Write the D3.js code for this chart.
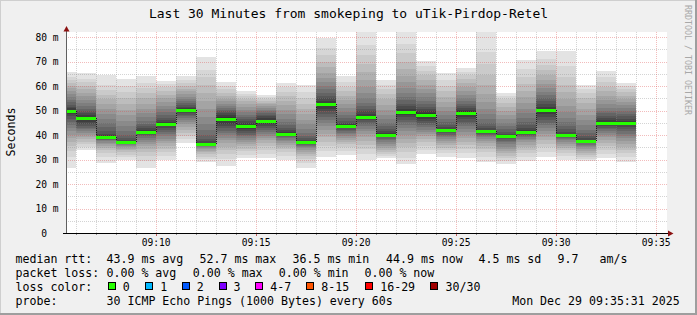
<!DOCTYPE html>
<html>
<head>
<meta charset="utf-8">
<script src="https://cdn.jsdelivr.net/npm/d3@7"></script>
<style>
  html, body { margin: 0; padding: 0; background: #f0f0f0; }
  svg { display: block; }
  text { font-family: "DejaVu Sans Mono", monospace; white-space: pre; }
</style>
</head>
<body>
<svg id="chart" width="697" height="315"></svg>
<script>
// minute each smoke bar ends at
const minuteLabels = [
  "09:06", "09:07", "09:08", "09:09", "09:10", "09:11", "09:12", "09:13", "09:14", "09:15",
  "09:16", "09:17", "09:18", "09:19", "09:20", "09:21", "09:22", "09:23", "09:24", "09:25",
  "09:26", "09:27", "09:28", "09:29", "09:30", "09:31", "09:32", "09:33", "09:34"
];

// 30 ping rtts (ms) per minute, sorted
const pings = [
  [26.7, 31.2, 33.5, 35.4, 37.0, 38.6, 40.1, 41.5, 42.8, 44.0, 45.5, 46.6, 47.6, 48.5, 49.3, 50.3, 50.9, 51.6, 52.4, 53.3, 54.3, 55.4, 56.6, 57.8, 59.0, 60.2, 61.4, 62.6, 63.6, 65.6],
  [33.9, 35.0, 36.2, 37.3, 38.3, 39.2, 40.0, 40.8, 41.5, 42.3, 43.0, 43.8, 44.6, 45.4, 46.2, 47.4, 48.2, 49.0, 49.8, 50.8, 51.9, 53.1, 54.4, 55.8, 57.3, 58.7, 60.1, 61.6, 63.0, 65.4],
  [28.4, 31.0, 32.6, 33.8, 34.8, 35.6, 36.3, 36.9, 37.4, 37.8, 38.1, 38.4, 38.7, 38.9, 39.1, 39.3, 39.8, 40.6, 41.8, 43.2, 44.8, 46.6, 48.5, 50.5, 52.5, 54.5, 56.5, 58.4, 60.6, 64.5],
  [29.8, 31.0, 32.0, 32.9, 33.7, 34.4, 35.0, 35.5, 35.9, 36.2, 36.5, 36.7, 36.8, 36.9, 36.95, 37.05, 37.3, 37.8, 38.6, 39.8, 41.5, 43.5, 45.8, 48.0, 50.3, 52.6, 55.0, 57.4, 59.8, 62.7],
  [26.7, 29.5, 31.5, 33.0, 34.3, 35.4, 36.4, 37.3, 38.1, 38.8, 39.4, 39.9, 40.4, 40.8, 41.2, 41.6, 42.1, 42.7, 43.5, 44.5, 45.7, 47.2, 48.9, 50.8, 52.8, 54.9, 57.0, 59.2, 61.4, 64.2],
  [29.8, 31.5, 33.0, 34.3, 35.5, 36.6, 37.6, 38.5, 39.4, 40.3, 41.2, 42.0, 42.8, 43.5, 44.1, 44.7, 45.4, 46.2, 47.1, 48.1, 49.3, 50.6, 52.0, 53.5, 55.0, 56.5, 58.0, 59.4, 60.7, 62.2],
  [36.6, 38.3, 39.7, 41.0, 42.2, 43.3, 44.3, 45.2, 46.1, 46.9, 47.6, 48.3, 48.9, 49.5, 49.9, 50.5, 51.0, 51.6, 52.2, 52.9, 53.7, 54.6, 55.6, 56.7, 57.8, 58.9, 60.0, 61.1, 62.3, 64.1],
  [28.8, 30.2, 31.2, 32.1, 32.9, 33.6, 34.2, 34.7, 35.1, 35.5, 35.8, 36.0, 36.2, 36.3, 36.4, 36.6, 36.9, 37.5, 38.5, 40.0, 42.0, 44.5, 47.5, 50.8, 54.0, 57.2, 60.4, 63.5, 66.5, 71.8],
  [27.5, 30.2, 32.2, 33.9, 35.3, 36.6, 37.8, 38.9, 39.9, 40.9, 41.8, 42.7, 43.6, 44.6, 45.8, 47.2, 48.1, 48.9, 49.6, 50.3, 51.0, 51.8, 52.7, 53.7, 54.8, 56.0, 57.3, 58.7, 60.1, 61.8],
  [30.5, 32.0, 33.3, 34.4, 35.4, 36.3, 37.2, 38.0, 38.8, 39.5, 40.2, 40.9, 41.6, 42.4, 43.3, 44.1, 44.8, 45.6, 46.4, 47.3, 48.3, 49.3, 50.4, 51.5, 52.6, 53.7, 54.8, 55.8, 56.8, 58.0],
  [30.5, 32.4, 34.0, 35.4, 36.7, 37.8, 38.8, 39.7, 40.5, 41.3, 42.0, 42.7, 43.5, 44.3, 45.2, 46.2, 46.9, 47.6, 48.3, 49.0, 49.7, 50.4, 51.1, 51.8, 52.5, 53.2, 53.9, 54.6, 55.4, 56.3],
  [29.8, 31.5, 32.9, 34.1, 35.1, 36.0, 36.8, 37.5, 38.1, 38.7, 39.2, 39.6, 39.9, 40.1, 40.3, 40.7, 41.2, 41.9, 42.8, 43.9, 45.2, 46.7, 48.4, 50.2, 52.1, 54.0, 55.9, 57.7, 59.4, 61.1],
  [26.7, 28.6, 30.1, 31.3, 32.3, 33.1, 33.8, 34.5, 35.0, 35.5, 35.9, 36.2, 36.5, 36.7, 36.9, 37.1, 37.4, 37.9, 38.6, 39.6, 40.9, 42.5, 44.3, 46.3, 48.4, 50.6, 52.8, 55.1, 57.6, 60.4],
  [31.2, 33.5, 35.5, 37.3, 39.0, 40.6, 42.1, 43.5, 44.8, 46.0, 47.2, 48.4, 49.6, 50.8, 52.0, 53.0, 54.0, 55.0, 56.1, 57.3, 58.6, 60.0, 61.6, 63.4, 65.4, 67.6, 70.0, 72.7, 75.7, 79.5],
  [31.8, 33.6, 35.0, 36.2, 37.2, 38.1, 38.9, 39.6, 40.3, 41.0, 41.6, 42.2, 42.7, 43.2, 43.5, 43.9, 44.4, 45.0, 45.8, 46.8, 48.0, 49.4, 50.9, 52.5, 54.2, 56.0, 57.8, 59.7, 61.8, 64.2],
  [29.8, 32.4, 34.4, 36.1, 37.6, 39.0, 40.3, 41.5, 42.6, 43.6, 44.5, 45.3, 46.0, 46.6, 47.1, 47.9, 48.7, 49.6, 50.6, 51.8, 53.2, 54.9, 57.0, 59.5, 62.4, 65.6, 69.0, 72.6, 76.6, 81.9],
  [30.5, 31.5, 32.4, 33.2, 34.0, 34.8, 35.6, 36.4, 37.2, 37.9, 38.5, 39.0, 39.4, 39.7, 39.9, 40.3, 40.8, 41.5, 42.4, 43.5, 44.8, 46.4, 48.2, 50.2, 52.3, 54.5, 56.6, 58.6, 60.5, 62.4],
  [28.0, 30.8, 33.0, 35.0, 36.8, 38.5, 40.1, 41.6, 43.0, 44.2, 45.3, 46.3, 47.2, 48.0, 48.8, 49.8, 50.7, 51.7, 52.8, 54.1, 55.6, 57.3, 59.3, 61.6, 64.2, 67.0, 70.0, 73.3, 77.0, 81.9],
  [32.1, 34.0, 35.6, 37.0, 38.3, 39.4, 40.4, 41.3, 42.2, 43.1, 44.0, 44.9, 45.8, 46.7, 47.7, 48.9, 49.7, 50.6, 51.6, 52.7, 54.0, 55.4, 57.0, 58.7, 60.5, 62.4, 64.3, 66.2, 68.1, 70.2],
  [31.0, 32.5, 33.7, 34.8, 35.8, 36.7, 37.5, 38.3, 39.0, 39.6, 40.2, 40.7, 41.1, 41.5, 41.8, 42.0, 42.5, 43.2, 44.1, 45.2, 46.5, 48.0, 49.7, 51.6, 53.6, 55.7, 57.9, 60.2, 62.6, 65.2],
  [30.5, 32.5, 34.2, 35.8, 37.3, 38.7, 40.0, 41.2, 42.4, 43.5, 44.5, 45.5, 46.5, 47.4, 48.4, 49.6, 50.3, 51.1, 51.9, 52.8, 53.9, 55.1, 56.5, 58.0, 59.6, 61.2, 62.8, 64.4, 65.9, 67.5],
  [29.1, 31.2, 32.9, 34.3, 35.5, 36.6, 37.5, 38.3, 39.0, 39.6, 40.1, 40.5, 40.9, 41.2, 41.4, 41.6, 42.0, 42.7, 43.6, 44.8, 46.4, 48.4, 50.8, 53.6, 56.8, 60.4, 64.4, 68.8, 74.0, 81.9],
  [28.0, 29.4, 30.6, 31.6, 32.6, 33.5, 34.4, 35.3, 36.2, 37.0, 37.7, 38.3, 38.8, 39.2, 39.4, 39.6, 40.0, 40.6, 41.4, 42.4, 43.6, 45.0, 46.6, 48.3, 50.0, 51.6, 53.1, 54.5, 55.8, 57.0],
  [29.4, 31.2, 32.7, 34.0, 35.1, 36.1, 37.0, 37.8, 38.5, 39.1, 39.6, 40.1, 40.5, 40.8, 41.0, 41.4, 42.0, 42.9, 44.0, 45.4, 47.0, 48.8, 50.8, 53.0, 55.4, 58.0, 60.8, 63.8, 67.0, 70.6],
  [31.2, 33.2, 34.9, 36.4, 37.8, 39.1, 40.3, 41.5, 42.7, 43.9, 45.1, 46.3, 47.5, 48.6, 49.6, 50.6, 51.6, 52.6, 53.7, 54.9, 56.2, 57.6, 59.1, 60.7, 62.5, 64.4, 66.4, 68.6, 71.2, 74.3],
  [29.8, 31.4, 32.7, 33.8, 34.8, 35.7, 36.5, 37.2, 37.8, 38.4, 38.9, 39.3, 39.6, 39.8, 40.0, 40.2, 40.6, 41.3, 42.3, 43.6, 45.2, 47.1, 49.3, 51.8, 54.5, 57.4, 60.5, 63.8, 68.0, 74.3],
  [29.4, 30.3, 31.1, 31.9, 32.7, 33.5, 34.2, 34.9, 35.5, 36.1, 36.6, 37.0, 37.3, 37.5, 37.55, 37.65, 38.0, 38.6, 39.5, 40.7, 42.2, 44.0, 46.1, 48.3, 50.6, 52.9, 55.1, 57.1, 58.8, 60.4],
  [30.5, 32.4, 34.0, 35.4, 36.7, 37.9, 39.0, 40.0, 40.9, 41.7, 42.4, 43.0, 43.6, 44.1, 44.6, 45.4, 46.1, 46.9, 47.8, 48.8, 49.9, 51.2, 52.7, 54.3, 56.0, 57.8, 59.7, 61.7, 63.8, 66.1],
  [29.1, 31.0, 32.6, 34.0, 35.3, 36.5, 37.6, 38.6, 39.6, 40.6, 41.6, 42.5, 43.3, 44.0, 44.6, 45.2, 45.9, 46.7, 47.6, 48.6, 49.7, 50.9, 52.2, 53.5, 54.8, 56.1, 57.4, 58.7, 59.9, 61.1]
];

const yTicks = [0, 10, 20, 30, 40, 50, 60, 70, 80];
const xLabelTimes = ["09:10", "09:15", "09:20", "09:25", "09:30", "09:35"];

const lossLabels = ["0", "1", "2", "3", "4-7", "8-15", "16-29", "30/30"];
const lossColors = ["#26ff00", "#00b8ff", "#0059ff", "#7e00ff", "#ff00ff", "#ff5500", "#ff0000", "#a10000"];

const rttStats = ["43.9 ms avg", "52.7 ms max", "36.5 ms min", "44.9 ms now", "4.5 ms sd", "9.7", "am/s"];
const lossStats = ["0.00 % avg", "0.00 % max", "0.00 % min", "0.00 % now"];
const probeText = "30 ICMP Echo Pings (1000 Bytes) every 60s";
const stampText = "Mon Dec 29 09:35:31 2025";

const W = 697, H = 315;
const svg = d3.select("#chart");

// background + frame
svg.append("rect").attr("width", W).attr("height", H).attr("fill", "#f0f0f0");
svg.append("rect").attr("x", 0).attr("y", 0).attr("width", W).attr("height", 1).attr("fill", "#cfcfcf");
svg.append("rect").attr("x", 0).attr("y", 0).attr("width", 1).attr("height", H).attr("fill", "#cfcfcf");
svg.append("rect").attr("x", 0).attr("y", H - 2).attr("width", W).attr("height", 2).attr("fill", "#9e9e9e");
svg.append("rect").attr("x", W - 2).attr("y", 0).attr("width", 2).attr("height", H).attr("fill", "#9e9e9e");

// scales
const parseHMS = d3.timeParse("%H:%M:%S");
const parseHM = d3.timeParse("%H:%M");
const t0 = parseHMS("09:05:31"), t1 = parseHMS("09:35:31");
const x = d3.scaleTime().domain([t0, t1]).range([66, 666]);
const y = d3.scaleLinear().domain([0, 80]).range([233, 37]);
const plotTop = Math.round(y(82));

// canvas
svg.append("rect")
  .attr("x", 66).attr("y", plotTop)
  .attr("width", 601).attr("height", 233 - plotTop)
  .attr("fill", "#ffffff");

// build bars
const bars = minuteLabels.map((m, i) => {
  const end = parseHM(m);
  const start = d3.timeMinute.offset(end, -1);
  const p = pings[i].slice().sort(d3.ascending);
  return {
    x0: Math.max(66, Math.round(x(start))),
    x1: Math.round(x(end)),
    p: p,
    median: d3.median(p)
  };
});

// smoke: outer bands light, inner bands dark
const half = 15;
const smoke = svg.append("g").attr("shape-rendering", "crispEdges");
bars.forEach((b) => {
  for (let k = 1; k <= half; k++) {
    const c = Math.floor((190 / half) * (half - k)) + 50;
    const lo = Math.round(y(b.p[k - 1]));
    const hi = Math.round(y(b.p[b.p.length - k]));
    smoke.append("rect")
      .attr("x", b.x0).attr("width", b.x1 - b.x0)
      .attr("y", hi).attr("height", Math.max(1, lo - hi))
      .attr("fill", d3.rgb(c, c, c));
  }
});

// grid
const grid = svg.append("g").attr("shape-rendering", "crispEdges");
const minorCol = "rgba(143,143,143,0.38)";
const majorCol = "rgba(222,80,80,0.38)";
d3.range(5, 85, 5).forEach((v) => {
  const yy = Math.round(y(v)) + 0.5;
  grid.append("line")
    .attr("x1", 66).attr("x2", 667).attr("y1", yy).attr("y2", yy)
    .attr("stroke", v % 10 === 0 ? majorCol : minorCol)
    .attr("stroke-dasharray", "1,1");
});
d3.timeMinute.range(d3.timeMinute.ceil(t0), t1).forEach((t) => {
  const xx = Math.round(x(t)) + 0.5;
  const major = t.getMinutes() % 5 === 0;
  grid.append("line")
    .attr("x1", xx).attr("x2", xx).attr("y1", plotTop).attr("y2", 233)
    .attr("stroke", major ? majorCol : minorCol)
    .attr("stroke-dasharray", "1,1");
  // small tick under the axis
  svg.append("line")
    .attr("x1", xx).attr("x2", xx).attr("y1", 233).attr("y2", major ? 236 : 235)
    .attr("stroke", major ? "#c06060" : "#909090")
    .attr("shape-rendering", "crispEdges");
});

// median step connectors
const steps = svg.append("g").attr("shape-rendering", "crispEdges");
bars.slice(0, -1).forEach((b, i) => {
  const n = bars[i + 1];
  steps.append("line")
    .attr("x1", b.x1 + 0.5).attr("x2", b.x1 + 0.5)
    .attr("y1", Math.round(y(b.median))).attr("y2", Math.round(y(n.median)))
    .attr("stroke", "#202020")
    .attr("stroke-dasharray", "1,1");
});

// median lines (loss colour 0)
const med = svg.append("g").attr("shape-rendering", "crispEdges");
bars.forEach((b) => {
  med.append("rect")
    .attr("x", b.x0).attr("width", b.x1 - b.x0)
    .attr("y", Math.round(y(b.median)) - 1).attr("height", 3)
    .attr("fill", lossColors[0]);
});

// axes lines and arrows
svg.append("line")
  .attr("x1", 66.5).attr("x2", 66.5).attr("y1", 234).attr("y2", 29)
  .attr("stroke", "#606060").attr("shape-rendering", "crispEdges");
svg.append("line")
  .attr("x1", 63).attr("x2", 670).attr("y1", 233.5).attr("y2", 233.5)
  .attr("stroke", "#000000").attr("shape-rendering", "crispEdges");
svg.append("path").attr("d", "M63.5,31.5 L69.5,31.5 L66.5,26 Z").attr("fill", "#8b1111");
svg.append("path").attr("d", "M668,230.5 L668,236.5 L673.5,233.5 Z").attr("fill", "#8b1111");

// y axis labels
const yAxis = d3.axisLeft(y)
  .tickValues(yTicks)
  .tickSize(0)
  .tickPadding(7.5)
  .tickFormat((d) => (d === 0 ? "0  " : d + " m"));
const yg = svg.append("g").attr("transform", "translate(66,0)").call(yAxis);
yg.select(".domain").remove();
yg.selectAll("text")
  .attr("font-family", "DejaVu Sans Mono, monospace")
  .attr("font-size", 9.6)
  .attr("fill", "#000");

// x axis labels
const xAxis = d3.axisBottom(x)
  .tickValues(xLabelTimes.map(parseHM))
  .tickSize(0)
  .tickPadding(6.5)
  .tickFormat(d3.timeFormat("%H:%M"));
const xg = svg.append("g").attr("transform", "translate(0,233)").call(xAxis);
xg.select(".domain").remove();
xg.selectAll("text")
  .attr("font-family", "DejaVu Sans Mono, monospace")
  .attr("font-size", 9.6)
  .attr("fill", "#000");

// title
svg.append("text")
  .attr("x", 348.5).attr("y", 18)
  .attr("text-anchor", "middle")
  .attr("font-size", 13)
  .text("Last 30 Minutes from smokeping to uTik-Pirdop-Retel");

// y title
svg.append("text")
  .attr("transform", "translate(15,132) rotate(-90)")
  .attr("text-anchor", "middle")
  .attr("font-size", 11.6)
  .text("Seconds");

// watermark
svg.append("text")
  .attr("transform", "translate(685,5) rotate(90)")
  .attr("font-size", 8.3)
  .attr("fill", "#a8a8a8")
  .text("RRDTOOL / TOBI OETIKER");

// legend
const leg = svg.append("g").attr("font-size", 11.6).attr("fill", "#000");
function legText(xx, yy, s) {
  leg.append("text").attr("x", xx).attr("y", yy).text(s);
}
const rttX = [107, 200, 293, 386.5, 479, 558, 600];
legText(15.5, 263, "median rtt:");
rttStats.forEach((s, i) => legText(rttX[i] - 0.5, 263, s));

const lossX = [107, 193.3, 279.3, 365];
legText(15.5, 277, "packet loss:");
lossStats.forEach((s, i) => legText(lossX[i] - 0.5, 277, s));

const boxX = [108.5, 145.5, 182.5, 219.5, 255.5, 306.5, 365.5, 430.5];
const boxLabelX = [123.3, 160.7, 197.3, 234, 270.7, 321.7, 380.7, 446];
legText(15.5, 291, "loss color:");
lossLabels.forEach((s, i) => {
  leg.append("rect")
    .attr("x", boxX[i]).attr("y", 282.5)
    .attr("width", 7).attr("height", 7)
    .attr("fill", lossColors[i])
    .attr("stroke", "#000").attr("stroke-width", 1)
    .attr("shape-rendering", "crispEdges");
  legText(boxLabelX[i] - 0.5, 291, s);
});

legText(15.5, 305, "probe:");
legText(106.5, 305, probeText);
legText(512.2, 305, stampText);
</script>
</body>
</html>
